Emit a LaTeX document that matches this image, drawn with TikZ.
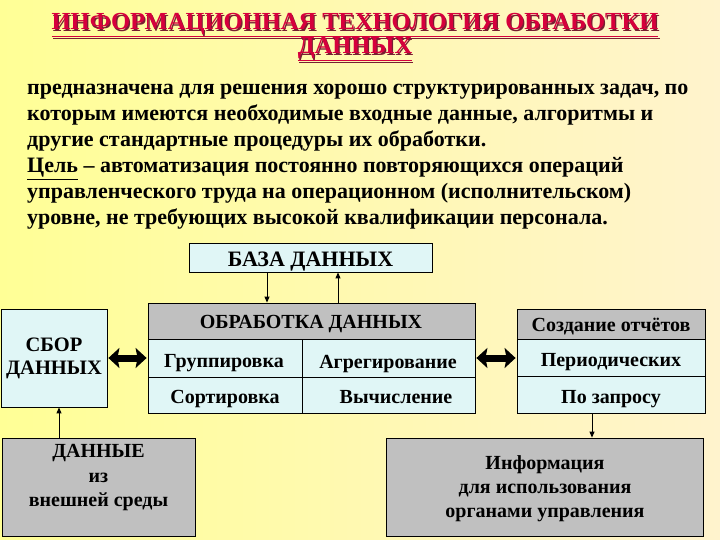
\documentclass[tikz,border=0pt]{standalone}
\usepackage{fontspec}
\setmainfont{Liberation Serif}
\usetikzlibrary{arrows.meta}
\definecolor{cyanfill}{RGB}{224,246,246}
\definecolor{grayfill}{RGB}{192,192,192}
\definecolor{titlered}{RGB}{214,0,60}
\definecolor{titleshadow}{RGB}{120,30,50}
\definecolor{bgleft}{RGB}{255,255,150}
\definecolor{bgright}{RGB}{255,243,205}
\begin{document}
\begin{tikzpicture}[x=1pt,y=-1pt,
  box/.style={draw=black, line width=0.8pt, inner sep=0pt, align=center},
  cyanbox/.style={box, fill=cyanfill},
  graybox/.style={box, fill=grayfill},
  cellfont/.style={font=\fontsize{20}{22}\selectfont\bfseries},
  celltext/.style={anchor=base, inner sep=0pt, cellfont},
  bodyline/.style={anchor=base west, inner sep=0pt, font=\fontsize{22}{26}\selectfont\bfseries},
  titleline/.style={anchor=base, inner sep=0pt, font=\fontsize{24.5}{26}\selectfont\bfseries},
  thinarrow/.style={draw=black, line width=1pt, -{Triangle[length=6pt,width=5pt]}},
  fatarrow/.style={draw=black, line width=7pt, {Stealth[length=11pt,width=20pt,inset=2pt]}-{Stealth[length=11pt,width=20pt,inset=2pt]}}
]
\shade[left color=bgleft, right color=bgright] (0,0) rectangle (720,540);
\useasboundingbox (0,0) rectangle (720,540);

% title
\node[titleline, text=titleshadow] (t1s) at (356.2,31.2) {\underline{ИНФОРМАЦИОННАЯ ТЕХНОЛОГИЯ ОБРАБОТКИ}};
\node[titleline, text=titleshadow] (t2s) at (356.2,55.2) {\underline{ДАННЫХ}};
\node[titleline, text=titlered] (t1) at (355,30) {\underline{ИНФОРМАЦИОННАЯ ТЕХНОЛОГИЯ ОБРАБОТКИ}};
\node[titleline, text=titlered] (t2) at (355,54) {\underline{ДАННЫХ}};

% body
\node[bodyline] (b1) at (27,95) {предназначена для решения хорошо структурированных задач, по};
\node[bodyline] (b2) at (27,121) {которым имеются необходимые входные данные, алгоритмы и};
\node[bodyline] (b3) at (27,147) {другие стандартные процедуры их обработки.};
\node[bodyline] (b4) at (27,173) {\underline{Цель} – автоматизация постоянно повторяющихся операций};
\node[bodyline] (b5) at (27,199) {управленческого труда на операционном (исполнительском)};
\node[bodyline] (b6) at (27,225) {уровне, не требующих высокой квалификации персонала.};

% database
\node[cyanbox, minimum width=243, minimum height=29] (baza) at (310.5,257.5) {};
\node[anchor=base, inner sep=0pt, font=\fontsize{22}{24}\selectfont\bfseries] (bazat) at (310.5,266) {БАЗА ДАННЫХ};

% processing table
\node[graybox, minimum width=327, minimum height=36] (obr) at (311.5,321) {};
\node[cyanbox, minimum width=154, minimum height=38] (grp) at (225,358) {};
\node[cyanbox, minimum width=173, minimum height=38] (agr) at (388.5,358) {};
\node[cyanbox, minimum width=154, minimum height=36] (sort) at (225,395) {};
\node[cyanbox, minimum width=173, minimum height=36] (vych) at (388.5,395) {};
\node[celltext] (obrt) at (311,328) {ОБРАБОТКА ДАННЫХ};
\node[celltext] (grpt) at (224,367) {Группировка};
\node[celltext] (agrt) at (388,368) {Агрегирование};
\node[celltext] (sortt) at (225,403) {Сортировка};
\node[celltext] (vycht) at (396,403) {Вычисление};

% reports table
\node[graybox, minimum width=188, minimum height=30] (otch) at (611,324) {};
\node[cyanbox, minimum width=188, minimum height=37] (period) at (611,357.5) {};
\node[cyanbox, minimum width=188, minimum height=37] (zapros) at (611,394.5) {};
\node[celltext] (otcht) at (611,331) {Создание отчётов};
\node[celltext] (periodt) at (611,366) {Периодических};
\node[celltext] (zaprost) at (611,403) {По запросу};

% collection
\node[cyanbox, font=\fontsize{20.5}{23}\selectfont\bfseries, minimum width=106, minimum height=98] (sbor) at (54,358) {СБОР\\ДАННЫХ};

% external data
\node[graybox, minimum width=193, minimum height=98] (vnesh) at (98.5,487) {};
\node[align=center, inner sep=0pt, font=\fontsize{20}{24.5}\selectfont\bfseries] (vnesht) at (98.5,478) {ДАННЫЕ\\из\\внешней среды};

% information
\node[graybox, minimum width=317, minimum height=98] (info) at (544.5,487) {};
\node[align=center, inner sep=0pt, font=\fontsize{20}{24}\selectfont\bfseries] (infot) at (545,489) {Информация\\для использования\\органами управления};

% connectors
\draw[thinarrow] ([xshift=-43.5pt]baza.south) -- ([xshift=-43.5pt]baza.south |- obr.north);
\draw[thinarrow] ([xshift=27.5pt]baza.south |- obr.north) -- ([xshift=27.5pt]baza.south);
\draw[fatarrow] ([xshift=1pt]sbor.east) -- ([xshift=-1pt]grp.west);
\draw[fatarrow] ([xshift=1pt]agr.east) -- ([xshift=-1pt]agr.east -| period.west);
\draw[thinarrow] ([xshift=-19pt]zapros.south) -- ([xshift=-19pt]zapros.south |- info.north);
\draw[thinarrow] ([xshift=-39.5pt]vnesh.north) -- ([xshift=-39.5pt]vnesh.north |- sbor.south);
\end{tikzpicture}
\end{document}
